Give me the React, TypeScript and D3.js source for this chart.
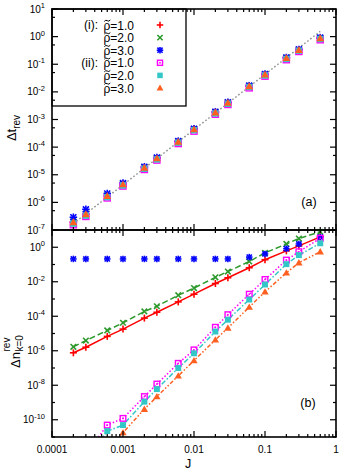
import React from "react";
import * as d3 from "d3";

// ---------- data ----------
const J = [0.0002, 0.0003, 0.0006, 0.001, 0.002, 0.003, 0.006, 0.01, 0.02, 0.03, 0.06, 0.1, 0.2, 0.3, 0.6];

// panel (a): Δt_rev
const dtRho1i = [1.9e-7, 3.7e-7, 1.7e-6, 4.5e-6, 1.8e-5, 3.9e-5, 1.55e-4, 4.4e-4, 1.8e-3, 4.0e-3, 1.6e-2, 4.2e-2, 0.166, 0.33, 0.87];
const dtRho2i = [2.0e-7, 3.8e-7, 1.75e-6, 4.6e-6, 1.85e-5, 4.0e-5, 1.6e-4, 4.5e-4, 1.85e-3, 4.1e-3, 1.62e-2, 4.3e-2, 0.17, 0.335, 0.88];
const dtRho3i = [2.9e-7, 5.6e-7, 2.1e-6, 5.0e-6, 1.95e-5, 4.2e-5, 1.65e-4, 4.6e-4, 1.9e-3, 4.2e-3, 1.68e-2, 4.4e-2, 0.175, 0.345, 0.92];
const dtRho1ii = [1.55e-7, 3.1e-7, 1.45e-6, 3.9e-6, 1.55e-5, 3.4e-5, 1.35e-4, 3.8e-4, 1.55e-3, 3.5e-3, 1.4e-2, 3.7e-2, 0.146, 0.29, 0.77];
const dtRho2ii = [1.7e-7, 3.3e-7, 1.55e-6, 4.1e-6, 1.65e-5, 3.6e-5, 1.45e-4, 4.1e-4, 1.65e-3, 3.7e-3, 1.5e-2, 3.9e-2, 0.155, 0.31, 0.82];
const dtRho3ii = [1.9e-7, 3.7e-7, 1.7e-6, 4.5e-6, 1.8e-5, 3.9e-5, 1.55e-4, 4.4e-4, 1.8e-3, 4.0e-3, 1.6e-2, 4.2e-2, 0.166, 0.33, 0.87];
const fitJ = [0.0002, 0.6];
const fitDt = [1.72e-7, 1.55];

// panel (b): Δn^rev_{k=0}
const dnRho1i = [7.6e-7, 1.6e-6, 6.8e-6, 1.8e-5, 7.8e-5, 1.7e-4, 6.8e-4, 1.9e-3, 7.9e-3, 1.7e-2, 6.5e-2, 0.19, 0.62, 1.2, 4.0];
const dnRho2i = [1.7e-6, 3.9e-6, 1.5e-5, 4.2e-5, 1.9e-4, 3.8e-4, 1.66e-3, 4.3e-3, 1.8e-2, 3.9e-2, 0.15, 0.47, 1.55, 3.2, 7.9];
const dnRho3i = [0.21, 0.21, 0.21, 0.21, 0.21, 0.21, 0.21, 0.21, 0.21, 0.21, 0.27, 0.41, 0.83, 1.55, 3.9];
const dnRho1ii = [2e-13, 1e-12, 4.9e-11, 1.2e-10, 2.2e-9, 1.17e-8, 1.86e-7, 1.12e-6, 2.3e-5, 1.23e-4, 1.9e-3, 1.35e-2, 0.18, 0.55, 3.3];
const dnRho2ii = [1e-13, 5e-13, 2.2e-11, 4.9e-11, 1.12e-9, 6.0e-9, 1.0e-7, 7.1e-7, 1.3e-5, 6.3e-5, 9.3e-4, 6.9e-3, 0.105, 0.35, 1.7];
const dnRho3ii = [1e-14, 5e-14, 2e-12, 1.8e-11, 4.1e-10, 2.2e-9, 3.5e-8, 2.7e-7, 4.3e-6, 2.1e-5, 3.4e-4, 2.6e-3, 3.3e-2, 0.126, 0.55];

const xTickLabels = ["0.0001", "0.001", "0.01", "0.1", "1"];
const yTickExpA = [1, 0, -1, -2, -3, -4, -5, -6, -7];
const yTickExpB = [0, -2, -4, -6, -8, -10];
const legendRho = ["1.0", "2.0", "3.0", "1.0", "2.0", "3.0"];
const legendGroup = ["(i):", "", "", "(ii):", "", ""];

// ---------- styles ----------
const FONT = "'Liberation Sans', Arial, Helvetica, sans-serif";
const series = [
  { color: "#ff0000", marker: "plus", dash: null, a: dtRho1i, b: dnRho1i },
  { color: "#2e9a2e", marker: "cross", dash: "6,3", a: dtRho2i, b: dnRho2i },
  { color: "#0000ff", marker: "star", dash: null, a: dtRho3i, b: dnRho3i },
  { color: "#ff00ff", marker: "osq", dash: "1.5,2", a: dtRho1ii, b: dnRho1ii },
  { color: "#33c6c6", marker: "fsq", dash: "5,2,1.5,2", a: dtRho2ii, b: dnRho2ii },
  { color: "#ff6020", marker: "tri", dash: "4,2,1.5,2,1.5,2", a: dtRho3ii, b: dnRho3ii },
];

const L = 52, R = 336;
const TA = 9, BA = 230, TB = 230, BB = 437;

const x = d3.scaleLog().domain([1e-4, 1]).range([L, R]);
const yA = d3.scaleLog().domain([1e-7, 10]).range([BA, TA]);
const yB = d3.scaleLog().domain([1e-11, 10]).range([BB, TB]);

function Marker({ type, cx, cy, color, s }: any) {
  const h = s / 2;
  if (type === "plus")
    return (
      <g stroke={color} strokeWidth={1.6}>
        <line x1={cx - h} x2={cx + h} y1={cy} y2={cy} />
        <line x1={cx} x2={cx} y1={cy - h} y2={cy + h} />
      </g>
    );
  if (type === "cross") {
    const k = h * 0.8;
    return (
      <g stroke={color} strokeWidth={1.6}>
        <line x1={cx - k} x2={cx + k} y1={cy - k} y2={cy + k} />
        <line x1={cx - k} x2={cx + k} y1={cy + k} y2={cy - k} />
      </g>
    );
  }
  if (type === "star") {
    const k = h * 0.8;
    return (
      <g stroke={color} strokeWidth={1.6}>
        <line x1={cx - h} x2={cx + h} y1={cy} y2={cy} />
        <line x1={cx} x2={cx} y1={cy - h} y2={cy + h} />
        <line x1={cx - k} x2={cx + k} y1={cy - k} y2={cy + k} />
        <line x1={cx - k} x2={cx + k} y1={cy + k} y2={cy - k} />
      </g>
    );
  }
  if (type === "osq")
    return (
      <g>
        <rect x={cx - h + 0.7} y={cy - h + 0.7} width={s - 1.4} height={s - 1.4} fill="none" stroke={color} strokeWidth={1.4} />
        <rect x={cx - 0.8} y={cy - 0.8} width={1.6} height={1.6} fill={color} />
      </g>
    );
  if (type === "fsq")
    return <rect x={cx - h * 0.85} y={cy - h * 0.85} width={s * 0.85} height={s * 0.85} fill={color} />;
  // triangle
  const t = h * 1.05;
  return <path d={`M${cx},${cy - t}L${cx + t},${cy + t * 0.75}L${cx - t},${cy + t * 0.75}Z`} fill={color} />;
}

function Frame({ top, bottom, y, majorExp, minorVals, showX }: any) {
  const xMajor = [1e-4, 1e-3, 1e-2, 1e-1, 1];
  const xMinor: number[] = [];
  for (let e = -4; e < 0; e++) for (let m = 2; m <= 9; m++) xMinor.push(m * Math.pow(10, e));
  const ticks: any[] = [];
  xMajor.forEach((v, i) => {
    const px = x(v);
    ticks.push(<line key={"xb" + i} x1={px} x2={px} y1={bottom} y2={bottom - 6} />);
    ticks.push(<line key={"xt" + i} x1={px} x2={px} y1={top} y2={top + 6} />);
  });
  xMinor.forEach((v, i) => {
    const px = x(v);
    ticks.push(<line key={"mxb" + i} x1={px} x2={px} y1={bottom} y2={bottom - 3} />);
    ticks.push(<line key={"mxt" + i} x1={px} x2={px} y1={top} y2={top + 3} />);
  });
  majorExp.forEach((e: number, i: number) => {
    const py = y(Math.pow(10, e));
    ticks.push(<line key={"yl" + i} x1={L} x2={L + 6} y1={py} y2={py} />);
    ticks.push(<line key={"yr" + i} x1={R} x2={R - 6} y1={py} y2={py} />);
  });
  minorVals.forEach((v: number, i: number) => {
    const py = y(v);
    if (py < top - 0.5 || py > bottom + 0.5) return;
    ticks.push(<line key={"myl" + i} x1={L} x2={L + 3} y1={py} y2={py} />);
    ticks.push(<line key={"myr" + i} x1={R} x2={R - 3} y1={py} y2={py} />);
  });
  return (
    <g>
      <g stroke="#000" strokeWidth={1.2}>{ticks}</g>
      <rect x={L} y={top} width={R - L} height={bottom - top} fill="none" stroke="#000" strokeWidth={1.6} />
      {majorExp.map((e: number, i: number) => (
        <text key={"lab" + i} x={45} y={y(Math.pow(10, e)) + 3.6} textAnchor="end" fontSize={10} fontFamily={FONT}>
          10<tspan dy={-4.5} fontSize={7.5}>{String(e)}</tspan>
        </text>
      ))}
      {showX &&
        xMajor.map((v, i) => (
          <text key={"xl" + i} x={x(v)} y={bottom + 16} textAnchor="middle" fontSize={10} fontFamily={FONT}>
            {xTickLabels[i]}
          </text>
        ))}
    </g>
  );
}

export default function App() {
  const lineA = d3.line<number>().x((_, i) => x(fitJ[i])).y((d) => yA(d));
  const lineB = (vals: number[]) =>
    d3.line<number>().x((_, i) => x(J[i])).y((d) => yB(d))(vals) as string;

  const minorA: number[] = [];
  for (let e = -7; e <= 1; e++) minorA.push(5 * Math.pow(10, e));
  const minorB: number[] = [];
  for (let e = -11; e <= 1; e += 2) minorB.push(Math.pow(10, e));

  return (
    <svg width={341} height={474} style={{ position: "absolute", left: 0, top: 0, background: "#fff" }}>
      <defs>
        <clipPath id="clipA">
          <rect x={L} y={TA} width={R - L} height={BA - TA} />
        </clipPath>
        <clipPath id="clipB">
          <rect x={L} y={TB} width={R - L} height={BB - TB} />
        </clipPath>
      </defs>
      <rect x={0} y={0} width={341} height={474} fill="#fff" />

      {/* panel (a) */}
      <g clipPath="url(#clipA)">
        <path d={lineA(fitDt) as string} fill="none" stroke="#8c8c8c" strokeWidth={1.4} strokeDasharray="1.6,2.2" />
      </g>
      {series.map((s, si) =>
        s.a.map((v, i) => (
          <Marker key={`a${si}-${i}`} type={s.marker} cx={x(J[i])} cy={yA(v)} color={s.color} s={7.5} />
        ))
      )}
      <Frame top={TA} bottom={BA} y={yA} majorExp={yTickExpA} minorVals={minorA} showX={false} />

      {/* legend */}
      <rect x={L} y={TA} width={186 - L} height={106 - TA} fill="none" stroke="#000" strokeWidth={1.3} />
      {series.map((s, i) => {
        const cy = 25 + i * 12.6;
        const tx = 103.5;
        return (
          <g key={"lg" + i}>
            {legendGroup[i] && (
              <text x={98} y={cy + 4} textAnchor="end" fontSize={12} fontFamily={FONT}>
                {legendGroup[i]}
              </text>
            )}
            <text x={tx} y={cy + 4.5} fontSize={12} fontFamily={FONT}>
              {"\u03C1=" + legendRho[i]}
            </text>
            <path
              d={`M${tx + 0.8},${cy - 3.6} q1.5,-1.9 3,-0.7 t3,-0.7`}
              fill="none"
              stroke="#000"
              strokeWidth={1}
            />
            <Marker type={s.marker} cx={160} cy={cy} color={s.color} s={6.5} />
          </g>
        );
      })}
      <text x={309} y={206} textAnchor="middle" fontSize={12.5} fontFamily={FONT}>(a)</text>

      {/* panel (b) */}
      <g clipPath="url(#clipB)">
        {series.map((s, si) =>
          si === 2 ? null : (
            <path
              key={"lb" + si}
              d={lineB(s.b)}
              fill="none"
              stroke={s.color}
              strokeWidth={1.5}
              strokeDasharray={s.dash || undefined}
            />
          )
        )}
      </g>
      {series.map((s, si) =>
        s.b.map((v, i) => {
          const py = yB(v);
          if (py > BB + 1 || py < TB - 1) return null;
          return <Marker key={`b${si}-${i}`} type={s.marker} cx={x(J[i])} cy={py} color={s.color} s={si === 2 ? 6.5 : 7} />;
        })
      )}
      <Frame top={TB} bottom={BB} y={yB} majorExp={yTickExpB} minorVals={minorB} showX={true} />
      <text x={308} y={407} textAnchor="middle" fontSize={12.5} fontFamily={FONT}>(b)</text>

      {/* axis titles */}
      <text transform="translate(16,128) rotate(-90)" textAnchor="middle" fontSize={13} fontFamily={FONT}>
        Δt<tspan dy={3.5} fontSize={10}>rev</tspan>
      </text>
      <g transform="translate(20,368) rotate(-90)" fontFamily={FONT}>
        <text x={0} y={0} fontSize={13}>Δn</text>
        <text x={16.5} y={-10} fontSize={10}>rev</text>
        <text x={16.5} y={3} fontSize={10}>k=0</text>
      </g>
      <text x={188} y={468} textAnchor="middle" fontSize={12.5} fontFamily={FONT}>J</text>
    </svg>
  );
}
